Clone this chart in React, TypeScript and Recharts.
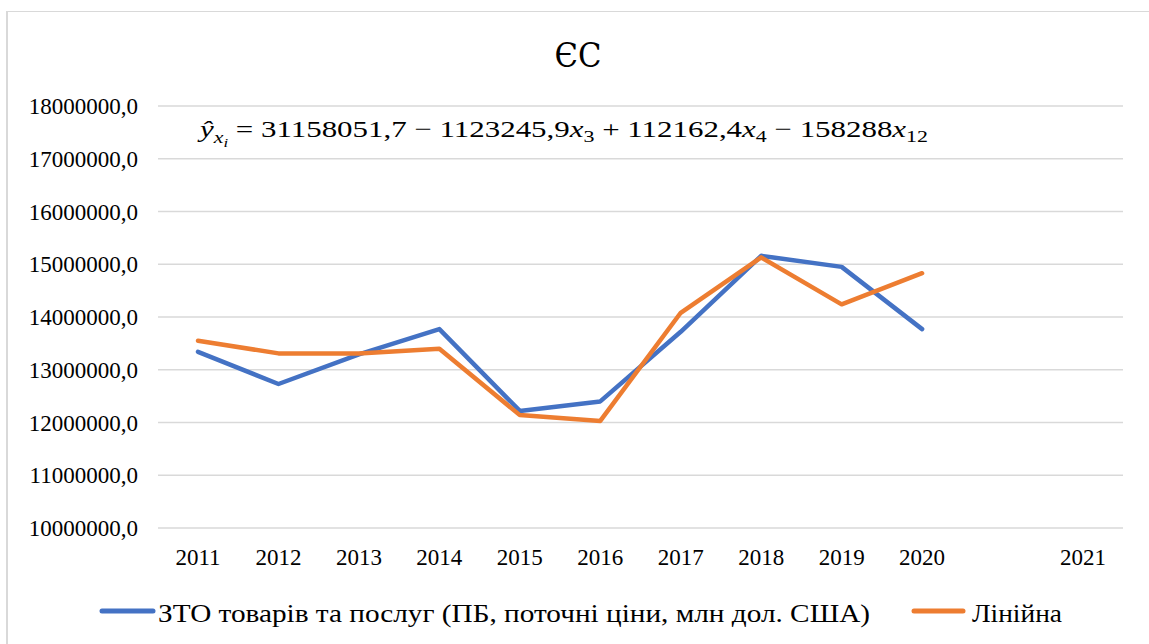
import React from "react";
import { LineChart, Line, XAxis, YAxis, CartesianGrid } from "recharts";

const years = ["2011", "2012", "2013", "2014", "2015", "2016", "2017", "2018", "2019", "2020", "", "2021"];
const ztoValues = [13340000, 12730000, 13290000, 13770000, 12220000, 12400000, 13720000, 15160000, 14950000, 13770000, null, null];
const linearValues = [13550000, 13310000, 13310000, 13400000, 12140000, 12030000, 14080000, 15130000, 14240000, 14830000, null, null];
const yTicks = [10000000, 11000000, 12000000, 13000000, 14000000, 15000000, 16000000, 17000000, 18000000];

const seriesNames = ["ЗТО товарів та послуг (ПБ, поточні ціни, млн дол. США)", "Лінійна"];
const title = "ЄС";

const BLUE = "#4472c4";
const ORANGE = "#ed7d31";
const FONT = "Liberation Serif";

const data = years.map((year, i) => ({
  year,
  zto: ztoValues[i],
  linear: linearValues[i],
}));

export default function App() {
  return (
    <div style={{ position: "absolute", left: 0, top: 0, width: 1149, height: 644, background: "#fff", overflow: "hidden" }}>
      <div
        style={{
          position: "absolute",
          left: 6,
          top: 11,
          width: 1200,
          height: 700,
          borderLeft: "2px solid #d9d9d9",
          borderTop: "1px solid #d9d9d9",
        }}
      />
      <LineChart
        width={1149}
        height={644}
        data={data}
        margin={{ top: 106, right: 26, left: 0, bottom: 76 }}
        style={{ position: "absolute", left: 0, top: 0 }}
      >
        <CartesianGrid horizontal vertical={false} stroke="#d9d9d9" strokeWidth={1.5} />
        <XAxis
          dataKey="year"
          interval={0}
          padding={{ left: 40, right: 40 }}
          axisLine={false}
          tickLine={false}
          tickSize={0}
          tickMargin={21}
          height={40}
          tick={{ fill: "#000", fontSize: 23, fontFamily: FONT }}
        />
        <YAxis
          domain={[10000000, 18000000]}
          ticks={yTicks}
          axisLine={false}
          tickLine={false}
          tickSize={0}
          tickMargin={20}
          width={158}
          tickFormatter={(v: number) => `${v},0`}
          tick={{ fill: "#000", fontSize: 23, fontFamily: FONT }}
        />
        <Line
          dataKey="zto"
          stroke={BLUE}
          strokeWidth={4.5}
          strokeLinecap="round"
          strokeLinejoin="round"
          dot={false}
          activeDot={false}
          isAnimationActive={false}
        />
        <Line
          dataKey="linear"
          stroke={ORANGE}
          strokeWidth={4.5}
          strokeLinecap="round"
          strokeLinejoin="round"
          dot={false}
          activeDot={false}
          isAnimationActive={false}
        />
      </LineChart>
      <svg width={1149} height={644} style={{ position: "absolute", left: 0, top: 0, pointerEvents: "none", fontFamily: FONT }}>
        <text x={578} y={67} textAnchor="middle" fontSize={34} fill="#000" textLength={47} lengthAdjust="spacingAndGlyphs" style={{ fontFamily: "DejaVu Serif" }}>
          {title}
        </text>
        <text x={200} y={137} fontSize={24} fill="#000" textLength={728} lengthAdjust="spacingAndGlyphs">
          <tspan fontStyle="italic">y&#770;</tspan>
          <tspan fontStyle="italic" fontSize={17} dy={6}>x</tspan>
          <tspan fontStyle="italic" fontSize={13} dy={4}>i</tspan>
          <tspan dy={-10}> = 31158051,7 − 1123245,9</tspan>
          <tspan fontStyle="italic">x</tspan>
          <tspan fontSize={17} dy={5}>3</tspan>
          <tspan dy={-5}> + 112162,4</tspan>
          <tspan fontStyle="italic">x</tspan>
          <tspan fontSize={17} dy={5}>4</tspan>
          <tspan dy={-5}> − 158288</tspan>
          <tspan fontStyle="italic">x</tspan>
          <tspan fontSize={17} dy={5}>12</tspan>
        </text>
        <line x1={102} y1={611} x2={153} y2={611} stroke={BLUE} strokeWidth={5} strokeLinecap="round" />
        <text x={158} y={622} fontSize={26} fill="#000" textLength={712} lengthAdjust="spacingAndGlyphs">
          {seriesNames[0]}
        </text>
        <line x1={914} y1={611} x2={963} y2={611} stroke={ORANGE} strokeWidth={5} strokeLinecap="round" />
        <text x={972} y={622} fontSize={26} fill="#000" textLength={90} lengthAdjust="spacingAndGlyphs">
          {seriesNames[1]}
        </text>
      </svg>
    </div>
  );
}
